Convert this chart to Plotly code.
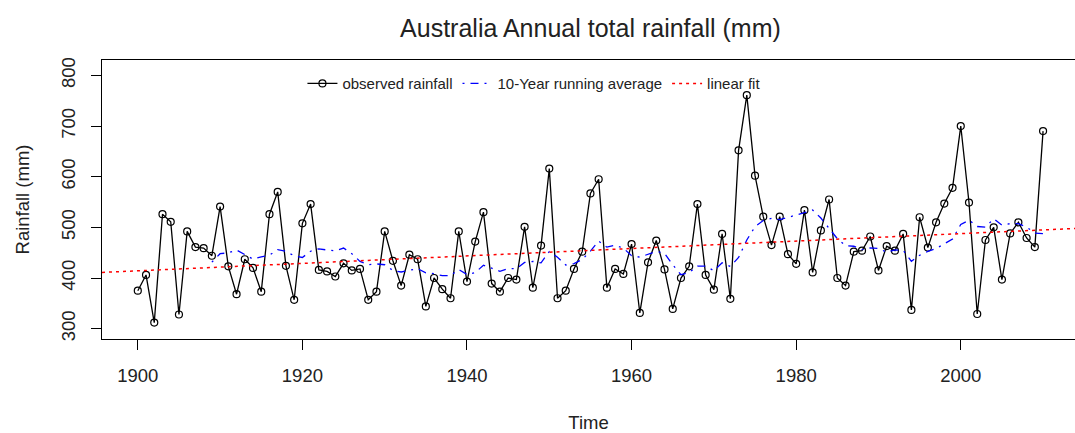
import numpy as np
import pandas as pd
import plotly.graph_objects as go

# ---------------- data ----------------
years = list(range(1900, 2011))
rainfall = [
    375, 406, 312, 526, 511, 328, 492, 461, 459, 444,   # 1900-1909
    541, 423, 368, 437, 420, 373, 526, 570, 424, 357,   # 1910-1919
    508, 546, 416, 413, 403, 429, 415, 418, 357, 373,   # 1920-1929
    492, 434, 385, 446, 437, 344, 400, 378, 360, 492,   # 1930-1939
    393, 472, 530, 389, 373, 400, 397, 501, 381, 464,   # 1940-1949
    616, 360, 375, 418, 452, 567, 595, 381, 418, 408,   # 1950-1959
    467, 331, 431, 474, 417, 339, 400, 423, 546, 406,   # 1960-1969
    377, 487, 359, 652, 761, 602, 521, 465, 521, 447,   # 1970-1979
    428, 534, 411, 494, 555, 400, 385, 452, 454, 482,   # 1980-1989
    415, 463, 454, 487, 337, 520, 460, 510, 547, 578,   # 1990-1999
    700, 549, 329, 475, 500, 397, 488, 510, 479, 461,   # 2000-2009
    690,                                                 # 2010
]
x_ticks = [1900, 1920, 1940, 1960, 1980, 2000]
y_ticks = [300, 400, 500, 600, 700, 800]
series_names = ["observed rainfall", "10-Year running average", "linear fit"]

# derived series, as in the original analysis
running_avg = pd.Series(rainfall, index=years).rolling(10).mean()
slope, intercept = np.polyfit(years, rainfall, 1)

X_RANGE = [1895.65, 2013.88]
Y_RANGE = [279.6, 830.4]
fit_x = X_RANGE
fit_y = [intercept + slope * v for v in fit_x]

FONT = "Liberation Sans, Arial, Helvetica, sans-serif"
TXT = "#222222"

fig = go.Figure()
fig.add_trace(go.Scatter(
    x=years, y=rainfall, mode="lines+markers", name=series_names[0],
    line=dict(color="black", width=1.3),
    marker=dict(symbol="circle-open", size=7, color="black", line=dict(width=1.2)),
))
fig.add_trace(go.Scatter(
    x=years, y=running_avg.values, mode="lines", name=series_names[1],
    line=dict(color="#0000FF", width=1.3, dash="2px,6px,8px,6px"),
    connectgaps=False,
))
fig.add_trace(go.Scatter(
    x=fit_x, y=fit_y, mode="lines", name=series_names[2],
    line=dict(color="#FF0000", width=1.5, dash="3px,4px"),
))

fig.update_layout(
    width=1075, height=433,
    margin=dict(l=101.7, r=0, t=59.6, b=93.6, pad=0),
    paper_bgcolor="white", plot_bgcolor="white",
    font=dict(family=FONT, color=TXT, size=18.5),
    title=dict(text="Australia Annual total rainfall (mm)",
               font=dict(size=25, color=TXT, family=FONT),
               xref="paper", x=0.502, xanchor="center",
               yref="container", y=1 - 28 / 433, yanchor="middle"),
    showlegend=True,
    legend=dict(orientation="h", x=0.206, xanchor="left", y=0.915, yanchor="middle",
                bgcolor="rgba(0,0,0,0)", borderwidth=0,
                font=dict(size=15, color=TXT, family=FONT)),
)
fig.update_xaxes(
    range=X_RANGE, tickmode="array", tickvals=x_ticks,
    ticktext=[str(v) for v in x_ticks],
    ticks="outside", ticklen=10, tickwidth=1, tickcolor="black",
    showline=True, linecolor="black", linewidth=1, mirror=True,
    showgrid=False, zeroline=False,
    tickfont=dict(size=18.5, color=TXT, family=FONT),
    ticklabelstandoff=10,
    title=dict(text="Time", font=dict(size=18.5, color=TXT, family=FONT), standoff=30),
)
fig.update_yaxes(
    range=Y_RANGE, tickmode="array", tickvals=y_ticks,
    ticktext=[str(v) for v in y_ticks], tickangle=-90,
    ticks="outside", ticklen=10, tickwidth=1, tickcolor="black",
    showline=True, linecolor="black", linewidth=1, mirror=False,
    showgrid=False, zeroline=False,
    tickfont=dict(size=18.5, color=TXT, family=FONT),
    ticklabelstandoff=9,
    title=dict(text="Rainfall (mm)", font=dict(size=18.5, color=TXT, family=FONT), standoff=23),
)

fig.write_html("out.html")
